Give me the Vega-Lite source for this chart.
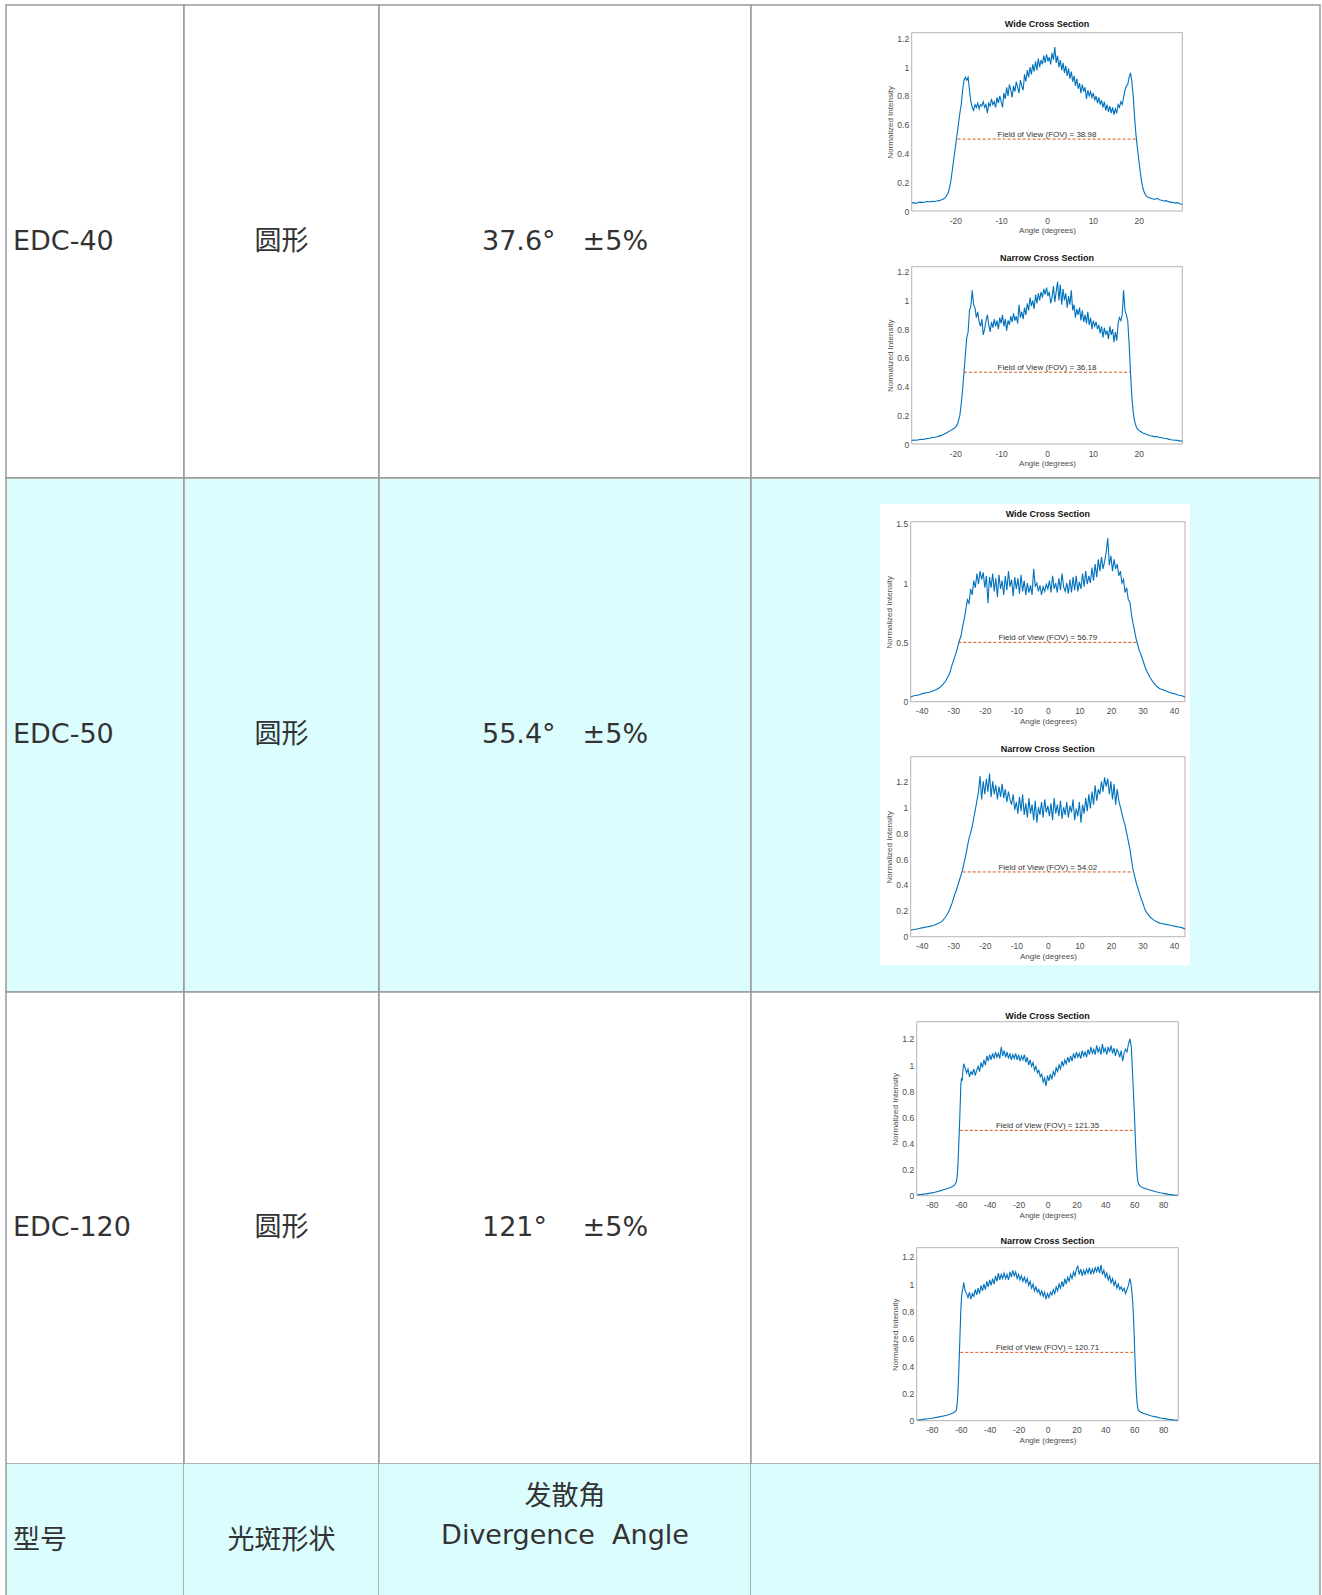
{
"$schema": "https://vega.github.io/schema/vega-lite/v6.json",
"background": "white",
"padding": {"left": 5, "top": 4, "right": 0, "bottom": 0},
"spacing": 0,
"bounds": "flush",
"align": "each",
"columns": 4,
"config": {
  "view": {"stroke": "#9a9a9a", "strokeWidth": 1.5},
  "axis": {"zindex": 1, "grid": false, "ticks": false, "domain": false, "labelFlush": false, "labelOverlap": false, "labelFont": "Liberation Sans", "titleFont": "Liberation Sans", "labelFontSize": 8.5, "titleFontSize": 8, "titleFontWeight": "normal", "labelColor": "#4d4d4d", "titleColor": "#4d4d4d"},
  "axisX": {"labelPadding": 5, "titlePadding": 2},
  "axisY": {"labelPadding": 3, "titlePadding": 2},
  "text": {"font": "DejaVu Sans, Noto Sans CJK SC", "fontSize": 27, "color": "#333333"}
},
"concat": [
  {"width": 178, "height": 473, "view": {"fill": "white", "stroke": "#9a9a9a", "strokeWidth": 1.5}, "data": {"values": [{"t": "EDC-40"}]}, "mark": {"type": "text", "align": "left", "dx": -82}, "encoding": {"text": {"field": "t"}}},
  {"width": 195, "height": 473, "view": {"fill": "white", "stroke": "#9a9a9a", "strokeWidth": 1.5}, "data": {"values": [{"t": "圆形"}]}, "mark": {"type": "text"}, "encoding": {"text": {"field": "t"}}},
  {"width": 372, "height": 473, "view": {"fill": "white", "stroke": "#9a9a9a", "strokeWidth": 1.5}, "data": {"values": [{"t": "37.6°\u3000±5%"}]}, "mark": {"type": "text"}, "encoding": {"text": {"field": "t"}}},
  {"width": 569, "height": 473, "view": {"fill": "white", "stroke": "#9a9a9a", "strokeWidth": 1.5},
   "resolve": {"scale": {"x": "independent", "y": "independent"}, "axis": {"x": "independent", "y": "independent"}},
   "layer": [
    {
     "encoding": {
      "x": {"field": "a", "type": "quantitative", "scale": {"domain": [-29.5, 29.5], "range": [160.7, 431.3], "nice": false, "zero": false}, "axis": {"orient": "bottom", "offset": -267, "zindex": 1, "values": [-20, -10, 0, 10, 20], "format": "d", "labelExpr": "replace(datum.label, '\u2212', '-')", "title": "Angle (degrees)"}},
      "y": {"field": "v", "type": "quantitative", "scale": {"domain": [0, 1.24], "range": [206, 27.7], "nice": false, "zero": false}, "axis": {"orient": "left", "offset": -160.7, "zindex": 1, "values": [0, 0.2, 0.4, 0.6, 0.8, 1, 1.2], "format": ".1~f", "title": "Normalized Intensity"}}
     },
     "layer": [
      {"data": {"values": [{"a": -29.5, "a2": 29.5, "v": 0, "v2": 1.24}]}, "mark": {"type": "rect", "fill": "transparent", "stroke": "#a0a0a0", "strokeWidth": 0.8}, "encoding": {"x2": {"field": "a2"}, "y2": {"field": "v2"}}},
      {"data": {"values": [{"a":-29.5,"v":0.055},{"a":-29,"v":0.058},{"a":-28.5,"v":0.052},{"a":-28,"v":0.06},{"a":-27.5,"v":0.062},{"a":-27,"v":0.059},{"a":-26.5,"v":0.064},{"a":-26,"v":0.066},{"a":-25.5,"v":0.063},{"a":-25,"v":0.068},{"a":-24.5,"v":0.066},{"a":-24,"v":0.07},{"a":-23.5,"v":0.072},{"a":-23,"v":0.078},{"a":-22.5,"v":0.085},{"a":-22,"v":0.1},{"a":-21.5,"v":0.13},{"a":-21,"v":0.2},{"a":-20.5,"v":0.32},{"a":-20,"v":0.44},{"a":-19.5,"v":0.56},{"a":-19,"v":0.68},{"a":-18.7,"v":0.74},{"a":-18.4,"v":0.84},{"a":-18.1,"v":0.91},{"a":-17.8,"v":0.93},{"a":-17.5,"v":0.91},{"a":-17.2,"v":0.93},{"a":-16.9,"v":0.84},{"a":-16.6,"v":0.76},{"a":-16.3,"v":0.72},{"a":-16,"v":0.7},{"a":-15.7,"v":0.74},{"a":-15.4,"v":0.72},{"a":-15.1,"v":0.75},{"a":-14.8,"v":0.71},{"a":-14.5,"v":0.74},{"a":-14.2,"v":0.73},{"a":-13.9,"v":0.76},{"a":-13.6,"v":0.72},{"a":-13.3,"v":0.74},{"a":-13,"v":0.68},{"a":-12.7,"v":0.75},{"a":-12.4,"v":0.73},{"a":-12.1,"v":0.78},{"a":-11.8,"v":0.74},{"a":-11.5,"v":0.76},{"a":-11.2,"v":0.72},{"a":-10.9,"v":0.79},{"a":-10.6,"v":0.75},{"a":-10.3,"v":0.8},{"a":-10,"v":0.76},{"a":-9.7,"v":0.72},{"a":-9.4,"v":0.82},{"a":-9.1,"v":0.78},{"a":-8.8,"v":0.86},{"a":-8.5,"v":0.8},{"a":-8.2,"v":0.88},{"a":-7.9,"v":0.84},{"a":-7.6,"v":0.79},{"a":-7.3,"v":0.87},{"a":-7,"v":0.83},{"a":-6.7,"v":0.9},{"a":-6.4,"v":0.86},{"a":-6.1,"v":0.82},{"a":-5.8,"v":0.91},{"a":-5.5,"v":0.87},{"a":-5.2,"v":0.84},{"a":-4.9,"v":0.95},{"a":-4.6,"v":0.9},{"a":-4.3,"v":0.98},{"a":-4,"v":0.93},{"a":-3.7,"v":1.0},{"a":-3.4,"v":0.95},{"a":-3.1,"v":1.02},{"a":-2.8,"v":0.97},{"a":-2.5,"v":1.04},{"a":-2.2,"v":0.98},{"a":-1.9,"v":1.06},{"a":-1.6,"v":1.0},{"a":-1.3,"v":1.05},{"a":-1,"v":1.02},{"a":-0.7,"v":1.08},{"a":-0.4,"v":1.03},{"a":-0.1,"v":1.09},{"a":0.2,"v":1.04},{"a":0.5,"v":1.07},{"a":0.8,"v":1.02},{"a":1.1,"v":1.1},{"a":1.4,"v":1.05},{"a":1.7,"v":1.14},{"a":2.0,"v":1.03},{"a":2.3,"v":1.08},{"a":2.6,"v":1.0},{"a":2.9,"v":1.05},{"a":3.2,"v":0.98},{"a":3.5,"v":1.03},{"a":3.8,"v":0.96},{"a":4.1,"v":1.01},{"a":4.4,"v":0.94},{"a":4.7,"v":0.99},{"a":5,"v":0.92},{"a":5.3,"v":0.97},{"a":5.6,"v":0.9},{"a":5.9,"v":0.94},{"a":6.2,"v":0.87},{"a":6.5,"v":0.92},{"a":6.8,"v":0.85},{"a":7.1,"v":0.89},{"a":7.4,"v":0.82},{"a":7.7,"v":0.88},{"a":8,"v":0.83},{"a":8.3,"v":0.86},{"a":8.6,"v":0.78},{"a":8.9,"v":0.84},{"a":9.2,"v":0.8},{"a":9.5,"v":0.83},{"a":9.8,"v":0.79},{"a":10.1,"v":0.82},{"a":10.4,"v":0.77},{"a":10.7,"v":0.8},{"a":11,"v":0.75},{"a":11.3,"v":0.79},{"a":11.6,"v":0.74},{"a":11.9,"v":0.77},{"a":12.2,"v":0.72},{"a":12.5,"v":0.76},{"a":12.8,"v":0.7},{"a":13.1,"v":0.74},{"a":13.4,"v":0.69},{"a":13.7,"v":0.73},{"a":14,"v":0.68},{"a":14.3,"v":0.72},{"a":14.6,"v":0.67},{"a":14.9,"v":0.71},{"a":15.2,"v":0.68},{"a":15.5,"v":0.74},{"a":15.8,"v":0.72},{"a":16.1,"v":0.76},{"a":16.4,"v":0.74},{"a":16.7,"v":0.79},{"a":17,"v":0.84},{"a":17.3,"v":0.87},{"a":17.6,"v":0.88},{"a":17.9,"v":0.93},{"a":18.2,"v":0.96},{"a":18.5,"v":0.9},{"a":18.8,"v":0.8},{"a":19.1,"v":0.65},{"a":19.4,"v":0.53},{"a":19.7,"v":0.44},{"a":20,"v":0.36},{"a":20.3,"v":0.28},{"a":20.6,"v":0.21},{"a":20.9,"v":0.16},{"a":21.2,"v":0.13},{"a":21.5,"v":0.11},{"a":22,"v":0.095},{"a":22.5,"v":0.09},{"a":23,"v":0.085},{"a":23.5,"v":0.08},{"a":24,"v":0.088},{"a":24.5,"v":0.078},{"a":25,"v":0.075},{"a":25.5,"v":0.07},{"a":26,"v":0.072},{"a":26.5,"v":0.065},{"a":27,"v":0.062},{"a":27.5,"v":0.06},{"a":28,"v":0.055},{"a":28.5,"v":0.058},{"a":29,"v":0.05},{"a":29.5,"v":0.045}]},
       "mark": {"type": "line", "color": "#0072BD", "strokeWidth": 1.1}},
      {"data": {"values": [{"a": -19.49, "a2": 19.49, "v": 0.5}]}, "mark": {"type": "rule", "color": "#D95319", "strokeDash": [3, 2], "strokeWidth": 1}, "encoding": {"x2": {"field": "a2"}}},
      {"data": {"values": [{"a": 0, "v": 0.5, "t": "Field of View (FOV) = 38.98"}]}, "mark": {"type": "text", "baseline": "middle", "dy": -4, "fontSize": 8, "font": "Liberation Sans", "color": "#333333"}, "encoding": {"text": {"field": "t"}}},
      {"data": {"values": [{"a": 0, "v": 1.24, "t": "Wide Cross Section"}]}, "mark": {"type": "text", "baseline": "middle", "dy": -9, "fontSize": 9, "fontWeight": "bold", "font": "Liberation Sans", "color": "#111111"}, "encoding": {"text": {"field": "t"}}}
     ]
    },
    {
     "encoding": {
      "x": {"field": "a", "type": "quantitative", "scale": {"domain": [-29.5, 29.5], "range": [160.7, 431.3], "nice": false, "zero": false}, "axis": {"orient": "bottom", "offset": -34, "zindex": 1, "values": [-20, -10, 0, 10, 20], "format": "d", "labelExpr": "replace(datum.label, '\u2212', '-')", "title": "Angle (degrees)"}},
      "y": {"field": "v", "type": "quantitative", "scale": {"domain": [0, 1.235], "range": [439, 261.7], "nice": false, "zero": false}, "axis": {"orient": "left", "offset": -160.7, "zindex": 1, "values": [0, 0.2, 0.4, 0.6, 0.8, 1, 1.2], "format": ".1~f", "title": "Normalized Intensity"}}
     },
     "layer": [
      {"data": {"values": [{"a": -29.5, "a2": 29.5, "v": 0, "v2": 1.235}]}, "mark": {"type": "rect", "fill": "transparent", "stroke": "#a0a0a0", "strokeWidth": 0.8}, "encoding": {"x2": {"field": "a2"}, "y2": {"field": "v2"}}},
      {"data": {"values": [{"a":-29.5,"v":0.025},{"a":-29,"v":0.028},{"a":-28.5,"v":0.026},{"a":-28,"v":0.03},{"a":-27.5,"v":0.032},{"a":-27,"v":0.031},{"a":-26.5,"v":0.036},{"a":-26,"v":0.038},{"a":-25.5,"v":0.04},{"a":-25,"v":0.045},{"a":-24.5,"v":0.047},{"a":-24,"v":0.05},{"a":-23.5,"v":0.055},{"a":-23,"v":0.06},{"a":-22.5,"v":0.068},{"a":-22,"v":0.075},{"a":-21.5,"v":0.085},{"a":-21,"v":0.095},{"a":-20.5,"v":0.105},{"a":-20,"v":0.115},{"a":-19.5,"v":0.14},{"a":-19,"v":0.2},{"a":-18.7,"v":0.28},{"a":-18.4,"v":0.38},{"a":-18.1,"v":0.5},{"a":-17.8,"v":0.62},{"a":-17.5,"v":0.74},{"a":-17.2,"v":0.78},{"a":-16.9,"v":0.93},{"a":-16.6,"v":0.96},{"a":-16.3,"v":1.07},{"a":-16,"v":0.97},{"a":-15.7,"v":0.95},{"a":-15.4,"v":0.88},{"a":-15.1,"v":0.92},{"a":-14.8,"v":0.85},{"a":-14.5,"v":0.82},{"a":-14.2,"v":0.87},{"a":-13.9,"v":0.76},{"a":-13.6,"v":0.8},{"a":-13.3,"v":0.86},{"a":-13,"v":0.9},{"a":-12.7,"v":0.83},{"a":-12.4,"v":0.78},{"a":-12.1,"v":0.85},{"a":-11.8,"v":0.81},{"a":-11.5,"v":0.87},{"a":-11.2,"v":0.82},{"a":-10.9,"v":0.86},{"a":-10.6,"v":0.8},{"a":-10.3,"v":0.88},{"a":-10,"v":0.84},{"a":-9.7,"v":0.9},{"a":-9.4,"v":0.82},{"a":-9.1,"v":0.87},{"a":-8.8,"v":0.79},{"a":-8.5,"v":0.86},{"a":-8.2,"v":0.83},{"a":-7.9,"v":0.89},{"a":-7.6,"v":0.85},{"a":-7.3,"v":0.91},{"a":-7,"v":0.86},{"a":-6.7,"v":0.89},{"a":-6.4,"v":0.84},{"a":-6.1,"v":0.97},{"a":-5.8,"v":0.88},{"a":-5.5,"v":0.92},{"a":-5.2,"v":0.87},{"a":-4.9,"v":0.95},{"a":-4.6,"v":0.9},{"a":-4.3,"v":0.98},{"a":-4,"v":0.93},{"a":-3.7,"v":1.02},{"a":-3.4,"v":0.96},{"a":-3.1,"v":1.0},{"a":-2.8,"v":0.94},{"a":-2.5,"v":1.04},{"a":-2.2,"v":0.98},{"a":-1.9,"v":1.05},{"a":-1.6,"v":1.0},{"a":-1.3,"v":1.06},{"a":-1,"v":1.02},{"a":-0.7,"v":1.08},{"a":-0.4,"v":1.04},{"a":-0.1,"v":1.09},{"a":0.2,"v":1.03},{"a":0.5,"v":1.06},{"a":0.8,"v":0.98},{"a":1.1,"v":1.02},{"a":1.4,"v":1.1},{"a":1.7,"v":0.99},{"a":2.0,"v":1.06},{"a":2.3,"v":1.13},{"a":2.6,"v":1.0},{"a":2.9,"v":1.11},{"a":3.2,"v":0.97},{"a":3.5,"v":1.08},{"a":3.8,"v":1.0},{"a":4.1,"v":1.05},{"a":4.4,"v":0.95},{"a":4.7,"v":1.03},{"a":5,"v":0.97},{"a":5.3,"v":1.07},{"a":5.6,"v":0.93},{"a":5.9,"v":0.97},{"a":6.2,"v":0.88},{"a":6.5,"v":0.94},{"a":6.8,"v":0.9},{"a":7.1,"v":0.95},{"a":7.4,"v":0.86},{"a":7.7,"v":0.93},{"a":8,"v":0.85},{"a":8.3,"v":0.9},{"a":8.6,"v":0.84},{"a":8.9,"v":0.92},{"a":9.2,"v":0.83},{"a":9.5,"v":0.88},{"a":9.8,"v":0.8},{"a":10.1,"v":0.86},{"a":10.4,"v":0.82},{"a":10.7,"v":0.85},{"a":11,"v":0.8},{"a":11.3,"v":0.83},{"a":11.6,"v":0.77},{"a":11.9,"v":0.82},{"a":12.2,"v":0.74},{"a":12.5,"v":0.81},{"a":12.8,"v":0.76},{"a":13.1,"v":0.79},{"a":13.4,"v":0.73},{"a":13.7,"v":0.82},{"a":14,"v":0.76},{"a":14.3,"v":0.8},{"a":14.6,"v":0.71},{"a":14.9,"v":0.78},{"a":15.2,"v":0.72},{"a":15.5,"v":0.84},{"a":15.8,"v":0.88},{"a":16.1,"v":0.86},{"a":16.4,"v":0.9},{"a":16.7,"v":1.07},{"a":17,"v":0.93},{"a":17.3,"v":0.9},{"a":17.6,"v":0.86},{"a":17.9,"v":0.7},{"a":18.2,"v":0.5},{"a":18.5,"v":0.33},{"a":18.8,"v":0.22},{"a":19.1,"v":0.16},{"a":19.4,"v":0.125},{"a":19.7,"v":0.105},{"a":20,"v":0.095},{"a":20.5,"v":0.085},{"a":21,"v":0.075},{"a":21.5,"v":0.07},{"a":22,"v":0.065},{"a":22.5,"v":0.058},{"a":23,"v":0.055},{"a":23.5,"v":0.05},{"a":24,"v":0.052},{"a":24.5,"v":0.046},{"a":25,"v":0.044},{"a":25.5,"v":0.04},{"a":26,"v":0.038},{"a":26.5,"v":0.034},{"a":27,"v":0.03},{"a":27.5,"v":0.028},{"a":28,"v":0.026},{"a":28.5,"v":0.025},{"a":29,"v":0.022},{"a":29.5,"v":0.02}]},
       "mark": {"type": "line", "color": "#0072BD", "strokeWidth": 1.1}},
      {"data": {"values": [{"a": -18.09, "a2": 18.09, "v": 0.5}]}, "mark": {"type": "rule", "color": "#D95319", "strokeDash": [3, 2], "strokeWidth": 1}, "encoding": {"x2": {"field": "a2"}}},
      {"data": {"values": [{"a": 0, "v": 0.5, "t": "Field of View (FOV) = 36.18"}]}, "mark": {"type": "text", "baseline": "middle", "dy": -4, "fontSize": 8, "font": "Liberation Sans", "color": "#333333"}, "encoding": {"text": {"field": "t"}}},
      {"data": {"values": [{"a": 0, "v": 1.235, "t": "Narrow Cross Section"}]}, "mark": {"type": "text", "baseline": "middle", "dy": -9, "fontSize": 9, "fontWeight": "bold", "font": "Liberation Sans", "color": "#111111"}, "encoding": {"text": {"field": "t"}}}
     ]
    }
   ]
  },
  {"width": 178, "height": 514, "view": {"fill": "#dcfdfd", "stroke": "#9a9a9a", "strokeWidth": 1.5}, "data": {"values": [{"t": "EDC-50"}]}, "mark": {"type": "text", "align": "left", "dx": -82}, "encoding": {"text": {"field": "t"}}},
  {"width": 195, "height": 514, "view": {"fill": "#dcfdfd", "stroke": "#9a9a9a", "strokeWidth": 1.5}, "data": {"values": [{"t": "圆形"}]}, "mark": {"type": "text"}, "encoding": {"text": {"field": "t"}}},
  {"width": 372, "height": 514, "view": {"fill": "#dcfdfd", "stroke": "#9a9a9a", "strokeWidth": 1.5}, "data": {"values": [{"t": "55.4°\u3000±5%"}]}, "mark": {"type": "text"}, "encoding": {"text": {"field": "t"}}},
  {"width": 569, "height": 514, "view": {"fill": "#dcfdfd", "stroke": "#9a9a9a", "strokeWidth": 1.5},
   "resolve": {"scale": {"x": "independent", "y": "independent"}, "axis": {"x": "independent", "y": "independent"}},
   "layer": [
    {"data": {"values": [{"bx": 0, "bx2": 1, "by": 0, "by2": 1}]}, "mark": {"type": "rect", "fill": "white", "zindex": 0},
     "encoding": {"x": {"field": "bx", "type": "quantitative", "scale": {"domain": [0, 1], "range": [129, 439], "nice": false}, "axis": null}, "x2": {"field": "bx2"}, "y": {"field": "by", "type": "quantitative", "scale": {"domain": [0, 1], "range": [26, 487], "nice": false}, "axis": null}, "y2": {"field": "by2"}}},
    {
     "encoding": {
      "x": {"field": "a", "type": "quantitative", "scale": {"domain": [-43.5, 43.5], "range": [159.7, 434], "nice": false, "zero": false}, "axis": {"orient": "bottom", "offset": -290.3, "zindex": 2, "values": [-40, -30, -20, -10, 0, 10, 20, 30, 40], "format": "d", "labelExpr": "replace(datum.label, '\u2212', '-')", "title": "Angle (degrees)"}},
      "y": {"field": "v", "type": "quantitative", "scale": {"domain": [0, 1.517], "range": [223.7, 43.7], "nice": false, "zero": false}, "axis": {"orient": "left", "offset": -159.7, "zindex": 2, "values": [0, 0.5, 1, 1.5], "format": ".1~f", "title": "Normalized Intensity"}}
     },
     "layer": [
      {"data": {"values": [{"a": -43.5, "a2": 43.5, "v": 0, "v2": 1.517}]}, "mark": {"type": "rect", "fill": "transparent", "stroke": "#a0a0a0", "strokeWidth": 0.8}, "encoding": {"x2": {"field": "a2"}, "y2": {"field": "v2"}}},
      {"data": {"values": [{"a":-43.5,"v":0.04},{"a":-42.5,"v":0.05},{"a":-41.5,"v":0.055},{"a":-40.5,"v":0.06},{"a":-39.5,"v":0.07},{"a":-38.5,"v":0.075},{"a":-37.5,"v":0.08},{"a":-36.5,"v":0.09},{"a":-35.5,"v":0.1},{"a":-34.5,"v":0.115},{"a":-33.5,"v":0.14},{"a":-32.5,"v":0.17},{"a":-31.5,"v":0.22},{"a":-31,"v":0.25},{"a":-30.5,"v":0.3},{"a":-30,"v":0.34},{"a":-29.5,"v":0.38},{"a":-29,"v":0.42},{"a":-28.5,"v":0.47},{"a":-28,"v":0.52},{"a":-27.5,"v":0.56},{"a":-27,"v":0.64},{"a":-26.5,"v":0.7},{"a":-26,"v":0.78},{"a":-25.5,"v":0.86},{"a":-25,"v":0.83},{"a":-24.5,"v":0.95},{"a":-24,"v":0.9},{"a":-23.5,"v":1.02},{"a":-23,"v":0.96},{"a":-22.5,"v":1.08},{"a":-22,"v":0.99},{"a":-21.5,"v":1.1},{"a":-21,"v":1.03},{"a":-20.5,"v":1.09},{"a":-20,"v":0.96},{"a":-19.5,"v":1.06},{"a":-19,"v":0.83},{"a":-18.5,"v":1.05},{"a":-18,"v":0.96},{"a":-17.5,"v":1.08},{"a":-17,"v":0.93},{"a":-16.5,"v":1.04},{"a":-16,"v":0.88},{"a":-15.5,"v":1.07},{"a":-15,"v":0.95},{"a":-14.5,"v":1.02},{"a":-14,"v":0.9},{"a":-13.5,"v":1.06},{"a":-13,"v":0.94},{"a":-12.5,"v":1.1},{"a":-12,"v":0.97},{"a":-11.5,"v":1.03},{"a":-11,"v":0.89},{"a":-10.5,"v":1.05},{"a":-10,"v":0.95},{"a":-9.5,"v":1.04},{"a":-9,"v":0.91},{"a":-8.5,"v":1.07},{"a":-8,"v":0.93},{"a":-7.5,"v":1.02},{"a":-7,"v":0.9},{"a":-6.5,"v":1.0},{"a":-6,"v":0.92},{"a":-5.5,"v":0.98},{"a":-5,"v":0.9},{"a":-4.5,"v":1.12},{"a":-4,"v":0.97},{"a":-3.5,"v":1.0},{"a":-3,"v":0.93},{"a":-2.5,"v":0.98},{"a":-2,"v":0.9},{"a":-1.5,"v":0.97},{"a":-1,"v":0.93},{"a":-0.5,"v":0.99},{"a":0,"v":0.95},{"a":0.5,"v":1.02},{"a":1,"v":0.92},{"a":1.5,"v":1.06},{"a":2,"v":0.95},{"a":2.5,"v":1.0},{"a":3,"v":0.92},{"a":3.5,"v":1.04},{"a":4,"v":0.94},{"a":4.5,"v":1.08},{"a":5,"v":0.97},{"a":5.5,"v":0.93},{"a":6,"v":1.0},{"a":6.5,"v":0.91},{"a":7,"v":1.03},{"a":7.5,"v":0.92},{"a":8,"v":1.05},{"a":8.5,"v":0.94},{"a":9,"v":1.06},{"a":9.5,"v":0.93},{"a":10,"v":1.01},{"a":10.5,"v":0.95},{"a":11,"v":1.08},{"a":11.5,"v":0.97},{"a":12,"v":1.1},{"a":12.5,"v":0.99},{"a":13,"v":1.06},{"a":13.5,"v":1.0},{"a":14,"v":1.13},{"a":14.5,"v":1.02},{"a":15,"v":1.16},{"a":15.5,"v":1.05},{"a":16,"v":1.2},{"a":16.5,"v":1.1},{"a":17,"v":1.22},{"a":17.5,"v":1.12},{"a":18,"v":1.18},{"a":18.5,"v":1.26},{"a":19,"v":1.38},{"a":19.5,"v":1.15},{"a":20,"v":1.23},{"a":20.5,"v":1.1},{"a":21,"v":1.2},{"a":21.5,"v":1.12},{"a":22,"v":1.16},{"a":22.5,"v":1.06},{"a":23,"v":1.1},{"a":23.5,"v":1.0},{"a":24,"v":1.03},{"a":24.5,"v":0.92},{"a":25,"v":0.96},{"a":25.5,"v":0.86},{"a":26,"v":0.84},{"a":26.5,"v":0.74},{"a":27,"v":0.66},{"a":27.5,"v":0.6},{"a":28,"v":0.53},{"a":28.5,"v":0.48},{"a":29,"v":0.43},{"a":29.5,"v":0.4},{"a":30,"v":0.36},{"a":30.5,"v":0.32},{"a":31,"v":0.28},{"a":31.5,"v":0.25},{"a":32.5,"v":0.2},{"a":33.5,"v":0.16},{"a":34.5,"v":0.13},{"a":35.5,"v":0.11},{"a":36.5,"v":0.1},{"a":37.5,"v":0.09},{"a":38.5,"v":0.08},{"a":39.5,"v":0.07},{"a":40.5,"v":0.065},{"a":41.5,"v":0.055},{"a":42.5,"v":0.05},{"a":43.5,"v":0.04}]},
       "mark": {"type": "line", "color": "#0072BD", "strokeWidth": 1.1}},
      {"data": {"values": [{"a": -28.4, "a2": 28.4, "v": 0.5}]}, "mark": {"type": "rule", "color": "#D95319", "strokeDash": [3, 2], "strokeWidth": 1}, "encoding": {"x2": {"field": "a2"}}},
      {"data": {"values": [{"a": 0, "v": 0.5, "t": "Field of View (FOV) = 56.79"}]}, "mark": {"type": "text", "baseline": "middle", "dy": -4, "fontSize": 8, "font": "Liberation Sans", "color": "#333333"}, "encoding": {"text": {"field": "t"}}},
      {"data": {"values": [{"a": 0, "v": 1.517, "t": "Wide Cross Section"}]}, "mark": {"type": "text", "baseline": "middle", "dy": -8, "fontSize": 9, "fontWeight": "bold", "font": "Liberation Sans", "color": "#111111"}, "encoding": {"text": {"field": "t"}}}
     ]
    },
    {
     "encoding": {
      "x": {"field": "a", "type": "quantitative", "scale": {"domain": [-43.5, 43.5], "range": [159.7, 434], "nice": false, "zero": false}, "axis": {"orient": "bottom", "offset": -55.3, "zindex": 2, "values": [-40, -30, -20, -10, 0, 10, 20, 30, 40], "format": "d", "labelExpr": "replace(datum.label, '\u2212', '-')", "title": "Angle (degrees)"}},
      "y": {"field": "v", "type": "quantitative", "scale": {"domain": [0, 1.39], "range": [458.7, 278.7], "nice": false, "zero": false}, "axis": {"orient": "left", "offset": -159.7, "zindex": 2, "values": [0, 0.2, 0.4, 0.6, 0.8, 1, 1.2], "format": ".1~f", "title": "Normalized Intensity"}}
     },
     "layer": [
      {"data": {"values": [{"a": -43.5, "a2": 43.5, "v": 0, "v2": 1.39}]}, "mark": {"type": "rect", "fill": "transparent", "stroke": "#a0a0a0", "strokeWidth": 0.8}, "encoding": {"x2": {"field": "a2"}, "y2": {"field": "v2"}}},
      {"data": {"values": [{"a":-43.5,"v":0.05},{"a":-42.5,"v":0.055},{"a":-41.5,"v":0.06},{"a":-40.5,"v":0.065},{"a":-39.5,"v":0.07},{"a":-38.5,"v":0.075},{"a":-37.5,"v":0.08},{"a":-36.5,"v":0.085},{"a":-35.5,"v":0.095},{"a":-34.5,"v":0.105},{"a":-33.5,"v":0.12},{"a":-32.5,"v":0.15},{"a":-31.5,"v":0.19},{"a":-31,"v":0.22},{"a":-30.5,"v":0.25},{"a":-30,"v":0.29},{"a":-29.5,"v":0.33},{"a":-29,"v":0.36},{"a":-28.5,"v":0.4},{"a":-28,"v":0.44},{"a":-27.5,"v":0.48},{"a":-27,"v":0.52},{"a":-26.5,"v":0.58},{"a":-26,"v":0.63},{"a":-25.5,"v":0.7},{"a":-25,"v":0.76},{"a":-24.5,"v":0.8},{"a":-24,"v":0.85},{"a":-23.5,"v":0.92},{"a":-23,"v":0.98},{"a":-22.5,"v":1.05},{"a":-22,"v":1.12},{"a":-21.5,"v":1.24},{"a":-21,"v":1.06},{"a":-20.5,"v":1.2},{"a":-20,"v":1.1},{"a":-19.5,"v":1.22},{"a":-19,"v":1.12},{"a":-18.5,"v":1.26},{"a":-18,"v":1.08},{"a":-17.5,"v":1.2},{"a":-17,"v":1.1},{"a":-16.5,"v":1.17},{"a":-16,"v":1.06},{"a":-15.5,"v":1.16},{"a":-15,"v":1.08},{"a":-14.5,"v":1.18},{"a":-14,"v":1.07},{"a":-13.5,"v":1.14},{"a":-13,"v":1.04},{"a":-12.5,"v":1.12},{"a":-12,"v":1.06},{"a":-11.5,"v":1.02},{"a":-11,"v":1.1},{"a":-10.5,"v":0.98},{"a":-10,"v":1.04},{"a":-9.5,"v":0.95},{"a":-9,"v":1.08},{"a":-8.5,"v":0.97},{"a":-8,"v":1.1},{"a":-7.5,"v":0.94},{"a":-7,"v":1.03},{"a":-6.5,"v":0.92},{"a":-6,"v":1.07},{"a":-5.5,"v":0.95},{"a":-5,"v":1.02},{"a":-4.5,"v":0.9},{"a":-4,"v":1.05},{"a":-3.5,"v":0.88},{"a":-3,"v":1.0},{"a":-2.5,"v":0.94},{"a":-2,"v":1.04},{"a":-1.5,"v":0.92},{"a":-1,"v":1.06},{"a":-0.5,"v":0.96},{"a":0,"v":1.01},{"a":0.5,"v":0.93},{"a":1,"v":1.03},{"a":1.5,"v":0.9},{"a":2,"v":1.07},{"a":2.5,"v":0.95},{"a":3,"v":1.02},{"a":3.5,"v":0.93},{"a":4,"v":1.05},{"a":4.5,"v":0.91},{"a":5,"v":1.0},{"a":5.5,"v":0.94},{"a":6,"v":1.04},{"a":6.5,"v":0.92},{"a":7,"v":1.01},{"a":7.5,"v":0.96},{"a":8,"v":1.06},{"a":8.5,"v":0.9},{"a":9,"v":0.99},{"a":9.5,"v":0.93},{"a":10,"v":1.04},{"a":10.5,"v":0.88},{"a":11,"v":1.02},{"a":11.5,"v":0.95},{"a":12,"v":1.07},{"a":12.5,"v":0.97},{"a":13,"v":1.1},{"a":13.5,"v":0.99},{"a":14,"v":1.12},{"a":14.5,"v":1.02},{"a":15,"v":1.17},{"a":15.5,"v":1.05},{"a":16,"v":1.14},{"a":16.5,"v":1.1},{"a":17,"v":1.2},{"a":17.5,"v":1.12},{"a":18,"v":1.23},{"a":18.5,"v":1.16},{"a":19,"v":1.22},{"a":19.5,"v":1.1},{"a":20,"v":1.2},{"a":20.5,"v":1.06},{"a":21,"v":1.18},{"a":21.5,"v":1.02},{"a":22,"v":1.14},{"a":22.5,"v":1.05},{"a":23,"v":1.0},{"a":23.5,"v":0.95},{"a":24,"v":0.9},{"a":24.5,"v":0.86},{"a":25,"v":0.8},{"a":25.5,"v":0.74},{"a":26,"v":0.68},{"a":26.5,"v":0.6},{"a":27,"v":0.52},{"a":27.5,"v":0.47},{"a":28,"v":0.42},{"a":28.5,"v":0.38},{"a":29,"v":0.34},{"a":29.5,"v":0.3},{"a":30,"v":0.27},{"a":30.5,"v":0.23},{"a":31,"v":0.2},{"a":31.5,"v":0.18},{"a":32.5,"v":0.15},{"a":33.5,"v":0.13},{"a":34.5,"v":0.115},{"a":35.5,"v":0.105},{"a":36.5,"v":0.1},{"a":37.5,"v":0.095},{"a":38.5,"v":0.09},{"a":39.5,"v":0.085},{"a":40.5,"v":0.08},{"a":41.5,"v":0.075},{"a":42.5,"v":0.07},{"a":43.5,"v":0.06}]},
       "mark": {"type": "line", "color": "#0072BD", "strokeWidth": 1.1}},
      {"data": {"values": [{"a": -27.01, "a2": 27.01, "v": 0.5}]}, "mark": {"type": "rule", "color": "#D95319", "strokeDash": [3, 2], "strokeWidth": 1}, "encoding": {"x2": {"field": "a2"}}},
      {"data": {"values": [{"a": 0, "v": 0.5, "t": "Field of View (FOV) = 54.02"}]}, "mark": {"type": "text", "baseline": "middle", "dy": -4, "fontSize": 8, "font": "Liberation Sans", "color": "#333333"}, "encoding": {"text": {"field": "t"}}},
      {"data": {"values": [{"a": 0, "v": 1.39, "t": "Narrow Cross Section"}]}, "mark": {"type": "text", "baseline": "middle", "dy": -8, "fontSize": 9, "fontWeight": "bold", "font": "Liberation Sans", "color": "#111111"}, "encoding": {"text": {"field": "t"}}}
     ]
    }
   ]
  },
  {"width": 178, "height": 472, "view": {"fill": "white", "stroke": "#9a9a9a", "strokeWidth": 1.5}, "data": {"values": [{"t": "EDC-120"}]}, "mark": {"type": "text", "align": "left", "dx": -82}, "encoding": {"text": {"field": "t"}}},
  {"width": 195, "height": 472, "view": {"fill": "white", "stroke": "#9a9a9a", "strokeWidth": 1.5}, "data": {"values": [{"t": "圆形"}]}, "mark": {"type": "text"}, "encoding": {"text": {"field": "t"}}},
  {"width": 372, "height": 472, "view": {"fill": "white", "stroke": "#9a9a9a", "strokeWidth": 1.5}, "data": {"values": [{"t": "121°\u3000\u00a0±5%"}]}, "mark": {"type": "text"}, "encoding": {"text": {"field": "t"}}},
  {"width": 569, "height": 472, "view": {"fill": "white", "stroke": "#9a9a9a", "strokeWidth": 1.5},
   "resolve": {"scale": {"x": "independent", "y": "independent"}, "axis": {"x": "independent", "y": "independent"}},
   "layer": [
    {
     "encoding": {
      "x": {"field": "a", "type": "quantitative", "scale": {"domain": [-90.5, 90.5], "range": [165.7, 427.3], "nice": false, "zero": false}, "axis": {"orient": "bottom", "offset": -268.3, "zindex": 1, "values": [-80, -60, -40, -20, 0, 20, 40, 60, 80], "format": "d", "labelExpr": "replace(datum.label, '\u2212', '-')", "title": "Angle (degrees)"}},
      "y": {"field": "v", "type": "quantitative", "scale": {"domain": [0, 1.332], "range": [203.7, 29.7], "nice": false, "zero": false}, "axis": {"orient": "left", "offset": -165.7, "zindex": 1, "values": [0, 0.2, 0.4, 0.6, 0.8, 1, 1.2], "format": ".1~f", "title": "Normalized Intensity"}}
     },
     "layer": [
      {"data": {"values": [{"a": -90.5, "a2": 90.5, "v": 0, "v2": 1.332}]}, "mark": {"type": "rect", "fill": "transparent", "stroke": "#a0a0a0", "strokeWidth": 0.8}, "encoding": {"x2": {"field": "a2"}, "y2": {"field": "v2"}}},
      {"data": {"values": [{"a":-90,"v":0.008},{"a":-87,"v":0.01},{"a":-84,"v":0.014},{"a":-81,"v":0.02},{"a":-78,"v":0.027},{"a":-75,"v":0.035},{"a":-72,"v":0.045},{"a":-69,"v":0.055},{"a":-66,"v":0.068},{"a":-64,"v":0.085},{"a":-63,"v":0.11},{"a":-62.5,"v":0.15},{"a":-62,"v":0.22},{"a":-61.5,"v":0.36},{"a":-61,"v":0.5},{"a":-60.5,"v":0.66},{"a":-60,"v":0.84},{"a":-59.5,"v":0.9},{"a":-59,"v":0.88},{"a":-58.5,"v":0.96},{"a":-58,"v":1.01},{"a":-57,"v":0.98},{"a":-56,"v":0.94},{"a":-55,"v":0.97},{"a":-54,"v":0.91},{"a":-53,"v":0.95},{"a":-52,"v":0.93},{"a":-51,"v":0.97},{"a":-50,"v":0.92},{"a":-49,"v":0.96},{"a":-48,"v":0.99},{"a":-47,"v":0.95},{"a":-46,"v":1.02},{"a":-45,"v":0.98},{"a":-44,"v":1.04},{"a":-43,"v":1.0},{"a":-42,"v":1.07},{"a":-41,"v":1.03},{"a":-40,"v":1.08},{"a":-39,"v":1.04},{"a":-38,"v":1.09},{"a":-37,"v":1.05},{"a":-36,"v":1.1},{"a":-35,"v":1.06},{"a":-34,"v":1.09},{"a":-33,"v":1.05},{"a":-32,"v":1.14},{"a":-31,"v":1.07},{"a":-30,"v":1.11},{"a":-29,"v":1.06},{"a":-28,"v":1.1},{"a":-27,"v":1.05},{"a":-26,"v":1.09},{"a":-25,"v":1.04},{"a":-24,"v":1.08},{"a":-23,"v":1.05},{"a":-22,"v":1.09},{"a":-21,"v":1.04},{"a":-20,"v":1.08},{"a":-19,"v":1.03},{"a":-18,"v":1.07},{"a":-17,"v":1.04},{"a":-16,"v":1.08},{"a":-15,"v":1.02},{"a":-14,"v":1.06},{"a":-13,"v":1.0},{"a":-12,"v":1.04},{"a":-11,"v":0.99},{"a":-10,"v":1.02},{"a":-9,"v":0.96},{"a":-8,"v":0.99},{"a":-7,"v":0.94},{"a":-6,"v":0.96},{"a":-5,"v":0.91},{"a":-4,"v":0.93},{"a":-3,"v":0.87},{"a":-2,"v":0.9},{"a":-1,"v":0.84},{"a":0,"v":0.92},{"a":1,"v":0.88},{"a":2,"v":0.93},{"a":3,"v":0.89},{"a":4,"v":0.95},{"a":5,"v":0.92},{"a":6,"v":0.98},{"a":7,"v":0.95},{"a":8,"v":1.0},{"a":9,"v":0.97},{"a":10,"v":1.03},{"a":11,"v":0.99},{"a":12,"v":1.04},{"a":13,"v":1.01},{"a":14,"v":1.06},{"a":15,"v":1.02},{"a":16,"v":1.07},{"a":17,"v":1.03},{"a":18,"v":1.09},{"a":19,"v":1.05},{"a":20,"v":1.1},{"a":21,"v":1.06},{"a":22,"v":1.09},{"a":23,"v":1.05},{"a":24,"v":1.11},{"a":25,"v":1.07},{"a":26,"v":1.1},{"a":27,"v":1.06},{"a":28,"v":1.12},{"a":29,"v":1.08},{"a":30,"v":1.14},{"a":31,"v":1.09},{"a":32,"v":1.12},{"a":33,"v":1.08},{"a":34,"v":1.15},{"a":35,"v":1.1},{"a":36,"v":1.13},{"a":37,"v":1.08},{"a":38,"v":1.16},{"a":39,"v":1.1},{"a":40,"v":1.13},{"a":41,"v":1.08},{"a":42,"v":1.14},{"a":43,"v":1.1},{"a":44,"v":1.15},{"a":45,"v":1.09},{"a":46,"v":1.13},{"a":47,"v":1.07},{"a":48,"v":1.12},{"a":49,"v":1.1},{"a":50,"v":1.06},{"a":51,"v":1.11},{"a":52,"v":1.03},{"a":53,"v":1.09},{"a":54,"v":1.12},{"a":55,"v":1.1},{"a":56,"v":1.16},{"a":57,"v":1.2},{"a":57.5,"v":1.17},{"a":58,"v":1.14},{"a":58.5,"v":1.02},{"a":59,"v":0.9},{"a":59.5,"v":0.78},{"a":60,"v":0.66},{"a":60.5,"v":0.52},{"a":61,"v":0.38},{"a":61.5,"v":0.25},{"a":62,"v":0.16},{"a":62.5,"v":0.11},{"a":63,"v":0.09},{"a":64,"v":0.075},{"a":66,"v":0.06},{"a":69,"v":0.05},{"a":72,"v":0.04},{"a":75,"v":0.03},{"a":78,"v":0.022},{"a":81,"v":0.016},{"a":84,"v":0.01},{"a":87,"v":0.006},{"a":90,"v":0.004}]},
       "mark": {"type": "line", "color": "#0072BD", "strokeWidth": 1.1}},
      {"data": {"values": [{"a": -60.68, "a2": 60.68, "v": 0.5}]}, "mark": {"type": "rule", "color": "#D95319", "strokeDash": [3, 2], "strokeWidth": 1}, "encoding": {"x2": {"field": "a2"}}},
      {"data": {"values": [{"a": 0, "v": 0.5, "t": "Field of View (FOV) = 121.35"}]}, "mark": {"type": "text", "baseline": "middle", "dy": -4, "fontSize": 8, "font": "Liberation Sans", "color": "#333333"}, "encoding": {"text": {"field": "t"}}},
      {"data": {"values": [{"a": 0, "v": 1.332, "t": "Wide Cross Section"}]}, "mark": {"type": "text", "baseline": "middle", "dy": -6, "fontSize": 9, "fontWeight": "bold", "font": "Liberation Sans", "color": "#111111"}, "encoding": {"text": {"field": "t"}}}
     ]
    },
    {
     "encoding": {
      "x": {"field": "a", "type": "quantitative", "scale": {"domain": [-90.5, 90.5], "range": [165.7, 427.3], "nice": false, "zero": false}, "axis": {"orient": "bottom", "offset": -43.3, "zindex": 1, "values": [-80, -60, -40, -20, 0, 20, 40, 60, 80], "format": "d", "labelExpr": "replace(datum.label, '\u2212', '-')", "title": "Angle (degrees)"}},
      "y": {"field": "v", "type": "quantitative", "scale": {"domain": [0, 1.266], "range": [428.7, 255.7], "nice": false, "zero": false}, "axis": {"orient": "left", "offset": -165.7, "zindex": 1, "values": [0, 0.2, 0.4, 0.6, 0.8, 1, 1.2], "format": ".1~f", "title": "Normalized Intensity"}}
     },
     "layer": [
      {"data": {"values": [{"a": -90.5, "a2": 90.5, "v": 0, "v2": 1.266}]}, "mark": {"type": "rect", "fill": "transparent", "stroke": "#a0a0a0", "strokeWidth": 0.8}, "encoding": {"x2": {"field": "a2"}, "y2": {"field": "v2"}}},
      {"data": {"values": [{"a":-90,"v":0.005},{"a":-87,"v":0.008},{"a":-84,"v":0.012},{"a":-81,"v":0.016},{"a":-78,"v":0.022},{"a":-75,"v":0.028},{"a":-72,"v":0.035},{"a":-69,"v":0.042},{"a":-66,"v":0.052},{"a":-64,"v":0.065},{"a":-63,"v":0.08},{"a":-62.5,"v":0.12},{"a":-62,"v":0.2},{"a":-61.5,"v":0.33},{"a":-61,"v":0.48},{"a":-60.5,"v":0.64},{"a":-60,"v":0.8},{"a":-59.5,"v":0.9},{"a":-59,"v":0.95},{"a":-58.5,"v":0.97},{"a":-58,"v":1.01},{"a":-57,"v":0.95},{"a":-56,"v":0.93},{"a":-55,"v":0.9},{"a":-54,"v":0.94},{"a":-53,"v":0.89},{"a":-52,"v":0.93},{"a":-51,"v":0.91},{"a":-50,"v":0.96},{"a":-49,"v":0.92},{"a":-48,"v":0.97},{"a":-47,"v":0.93},{"a":-46,"v":0.99},{"a":-45,"v":0.95},{"a":-44,"v":1.0},{"a":-43,"v":0.96},{"a":-42,"v":1.02},{"a":-41,"v":0.98},{"a":-40,"v":1.03},{"a":-39,"v":0.99},{"a":-38,"v":1.04},{"a":-37,"v":1.0},{"a":-36,"v":1.06},{"a":-35,"v":1.02},{"a":-34,"v":1.08},{"a":-33,"v":1.03},{"a":-32,"v":1.07},{"a":-31,"v":1.04},{"a":-30,"v":1.08},{"a":-29,"v":1.04},{"a":-28,"v":1.07},{"a":-27,"v":1.03},{"a":-26,"v":1.09},{"a":-25,"v":1.05},{"a":-24,"v":1.1},{"a":-23,"v":1.06},{"a":-22,"v":1.09},{"a":-21,"v":1.04},{"a":-20,"v":1.07},{"a":-19,"v":1.03},{"a":-18,"v":1.06},{"a":-17,"v":1.02},{"a":-16,"v":1.05},{"a":-15,"v":1.01},{"a":-14,"v":1.04},{"a":-13,"v":0.99},{"a":-12,"v":1.02},{"a":-11,"v":0.97},{"a":-10,"v":1.0},{"a":-9,"v":0.95},{"a":-8,"v":0.98},{"a":-7,"v":0.94},{"a":-6,"v":0.96},{"a":-5,"v":0.92},{"a":-4,"v":0.95},{"a":-3,"v":0.91},{"a":-2,"v":0.94},{"a":-1,"v":0.89},{"a":0,"v":0.93},{"a":1,"v":0.9},{"a":2,"v":0.94},{"a":3,"v":0.92},{"a":4,"v":0.96},{"a":5,"v":0.93},{"a":6,"v":0.98},{"a":7,"v":0.95},{"a":8,"v":1.0},{"a":9,"v":0.97},{"a":10,"v":1.02},{"a":11,"v":0.98},{"a":12,"v":1.04},{"a":13,"v":1.0},{"a":14,"v":1.05},{"a":15,"v":1.02},{"a":16,"v":1.07},{"a":17,"v":1.04},{"a":18,"v":1.09},{"a":19,"v":1.06},{"a":20,"v":1.11},{"a":21,"v":1.13},{"a":22,"v":1.07},{"a":23,"v":1.11},{"a":24,"v":1.06},{"a":25,"v":1.1},{"a":26,"v":1.07},{"a":27,"v":1.11},{"a":28,"v":1.08},{"a":29,"v":1.12},{"a":30,"v":1.07},{"a":31,"v":1.11},{"a":32,"v":1.08},{"a":33,"v":1.12},{"a":34,"v":1.09},{"a":35,"v":1.13},{"a":36,"v":1.08},{"a":37,"v":1.14},{"a":38,"v":1.07},{"a":39,"v":1.1},{"a":40,"v":1.05},{"a":41,"v":1.08},{"a":42,"v":1.03},{"a":43,"v":1.06},{"a":44,"v":1.01},{"a":45,"v":1.04},{"a":46,"v":0.99},{"a":47,"v":1.02},{"a":48,"v":0.97},{"a":49,"v":1.0},{"a":50,"v":0.96},{"a":51,"v":0.98},{"a":52,"v":0.95},{"a":53,"v":0.97},{"a":54,"v":0.93},{"a":55,"v":0.96},{"a":56,"v":0.99},{"a":57,"v":1.04},{"a":57.5,"v":1.02},{"a":58,"v":0.98},{"a":58.5,"v":0.93},{"a":59,"v":0.86},{"a":59.5,"v":0.76},{"a":60,"v":0.62},{"a":60.5,"v":0.46},{"a":61,"v":0.32},{"a":61.5,"v":0.2},{"a":62,"v":0.13},{"a":62.5,"v":0.09},{"a":63,"v":0.075},{"a":64,"v":0.065},{"a":66,"v":0.055},{"a":69,"v":0.045},{"a":72,"v":0.035},{"a":75,"v":0.028},{"a":78,"v":0.02},{"a":81,"v":0.015},{"a":84,"v":0.01},{"a":87,"v":0.006},{"a":90,"v":0.004}]},
       "mark": {"type": "line", "color": "#0072BD", "strokeWidth": 1.1}},
      {"data": {"values": [{"a": -60.36, "a2": 60.36, "v": 0.5}]}, "mark": {"type": "rule", "color": "#D95319", "strokeDash": [3, 2], "strokeWidth": 1}, "encoding": {"x2": {"field": "a2"}}},
      {"data": {"values": [{"a": 0, "v": 0.5, "t": "Field of View (FOV) = 120.71"}]}, "mark": {"type": "text", "baseline": "middle", "dy": -4, "fontSize": 8, "font": "Liberation Sans", "color": "#333333"}, "encoding": {"text": {"field": "t"}}},
      {"data": {"values": [{"a": 0, "v": 1.266, "t": "Narrow Cross Section"}]}, "mark": {"type": "text", "baseline": "middle", "dy": -7, "fontSize": 9, "fontWeight": "bold", "font": "Liberation Sans", "color": "#111111"}, "encoding": {"text": {"field": "t"}}}
     ]
    }
   ]
  },
  {"width": 178, "height": 131, "view": {"fill": "#dcfdfd", "stroke": null},
   "layer": [
    {"data": {"values": [{}]}, "mark": {"type": "rule", "color": "#9a9a9a", "strokeWidth": 1.5}, "encoding": {"x": {"value": 0}, "y": {"value": 0}, "y2": {"value": "height"}}},
    {"data": {"values": [{}]}, "mark": {"type": "rule", "color": "#9a9a9a", "strokeWidth": 1.5}, "encoding": {"x": {"value": "width"}, "y": {"value": 0}, "y2": {"value": "height"}}},
    {"data": {"values": [{"t": "型号"}]}, "mark": {"type": "text", "align": "left", "dx": -82, "dy": 11}, "encoding": {"text": {"field": "t"}}}
   ]},
  {"width": 195, "height": 131, "view": {"fill": "#dcfdfd", "stroke": null},
   "layer": [
    {"data": {"values": [{}]}, "mark": {"type": "rule", "color": "#9a9a9a", "strokeWidth": 1.5}, "encoding": {"x": {"value": "width"}, "y": {"value": 0}, "y2": {"value": "height"}}},
    {"data": {"values": [{"t": "光斑形状"}]}, "mark": {"type": "text", "dy": 11}, "encoding": {"text": {"field": "t"}}}
   ]},
  {"width": 372, "height": 131, "view": {"fill": "#dcfdfd", "stroke": null},
   "layer": [
    {"data": {"values": [{}]}, "mark": {"type": "rule", "color": "#9a9a9a", "strokeWidth": 1.5}, "encoding": {"x": {"value": "width"}, "y": {"value": 0}, "y2": {"value": "height"}}},
    {"data": {"values": [{"t": ["发散角", "Divergence\u00a0 Angle"]}]}, "mark": {"type": "text", "dy": -33, "lineHeight": 39}, "encoding": {"text": {"field": "t"}}}
   ]},
  {"width": 569, "height": 131, "view": {"fill": "#dcfdfd", "stroke": null},
   "layer": [
    {"data": {"values": [{}]}, "mark": {"type": "rule", "color": "#9a9a9a", "strokeWidth": 1.5}, "encoding": {"x": {"value": "width"}, "y": {"value": 0}, "y2": {"value": "height"}}}
   ]}
]
}
